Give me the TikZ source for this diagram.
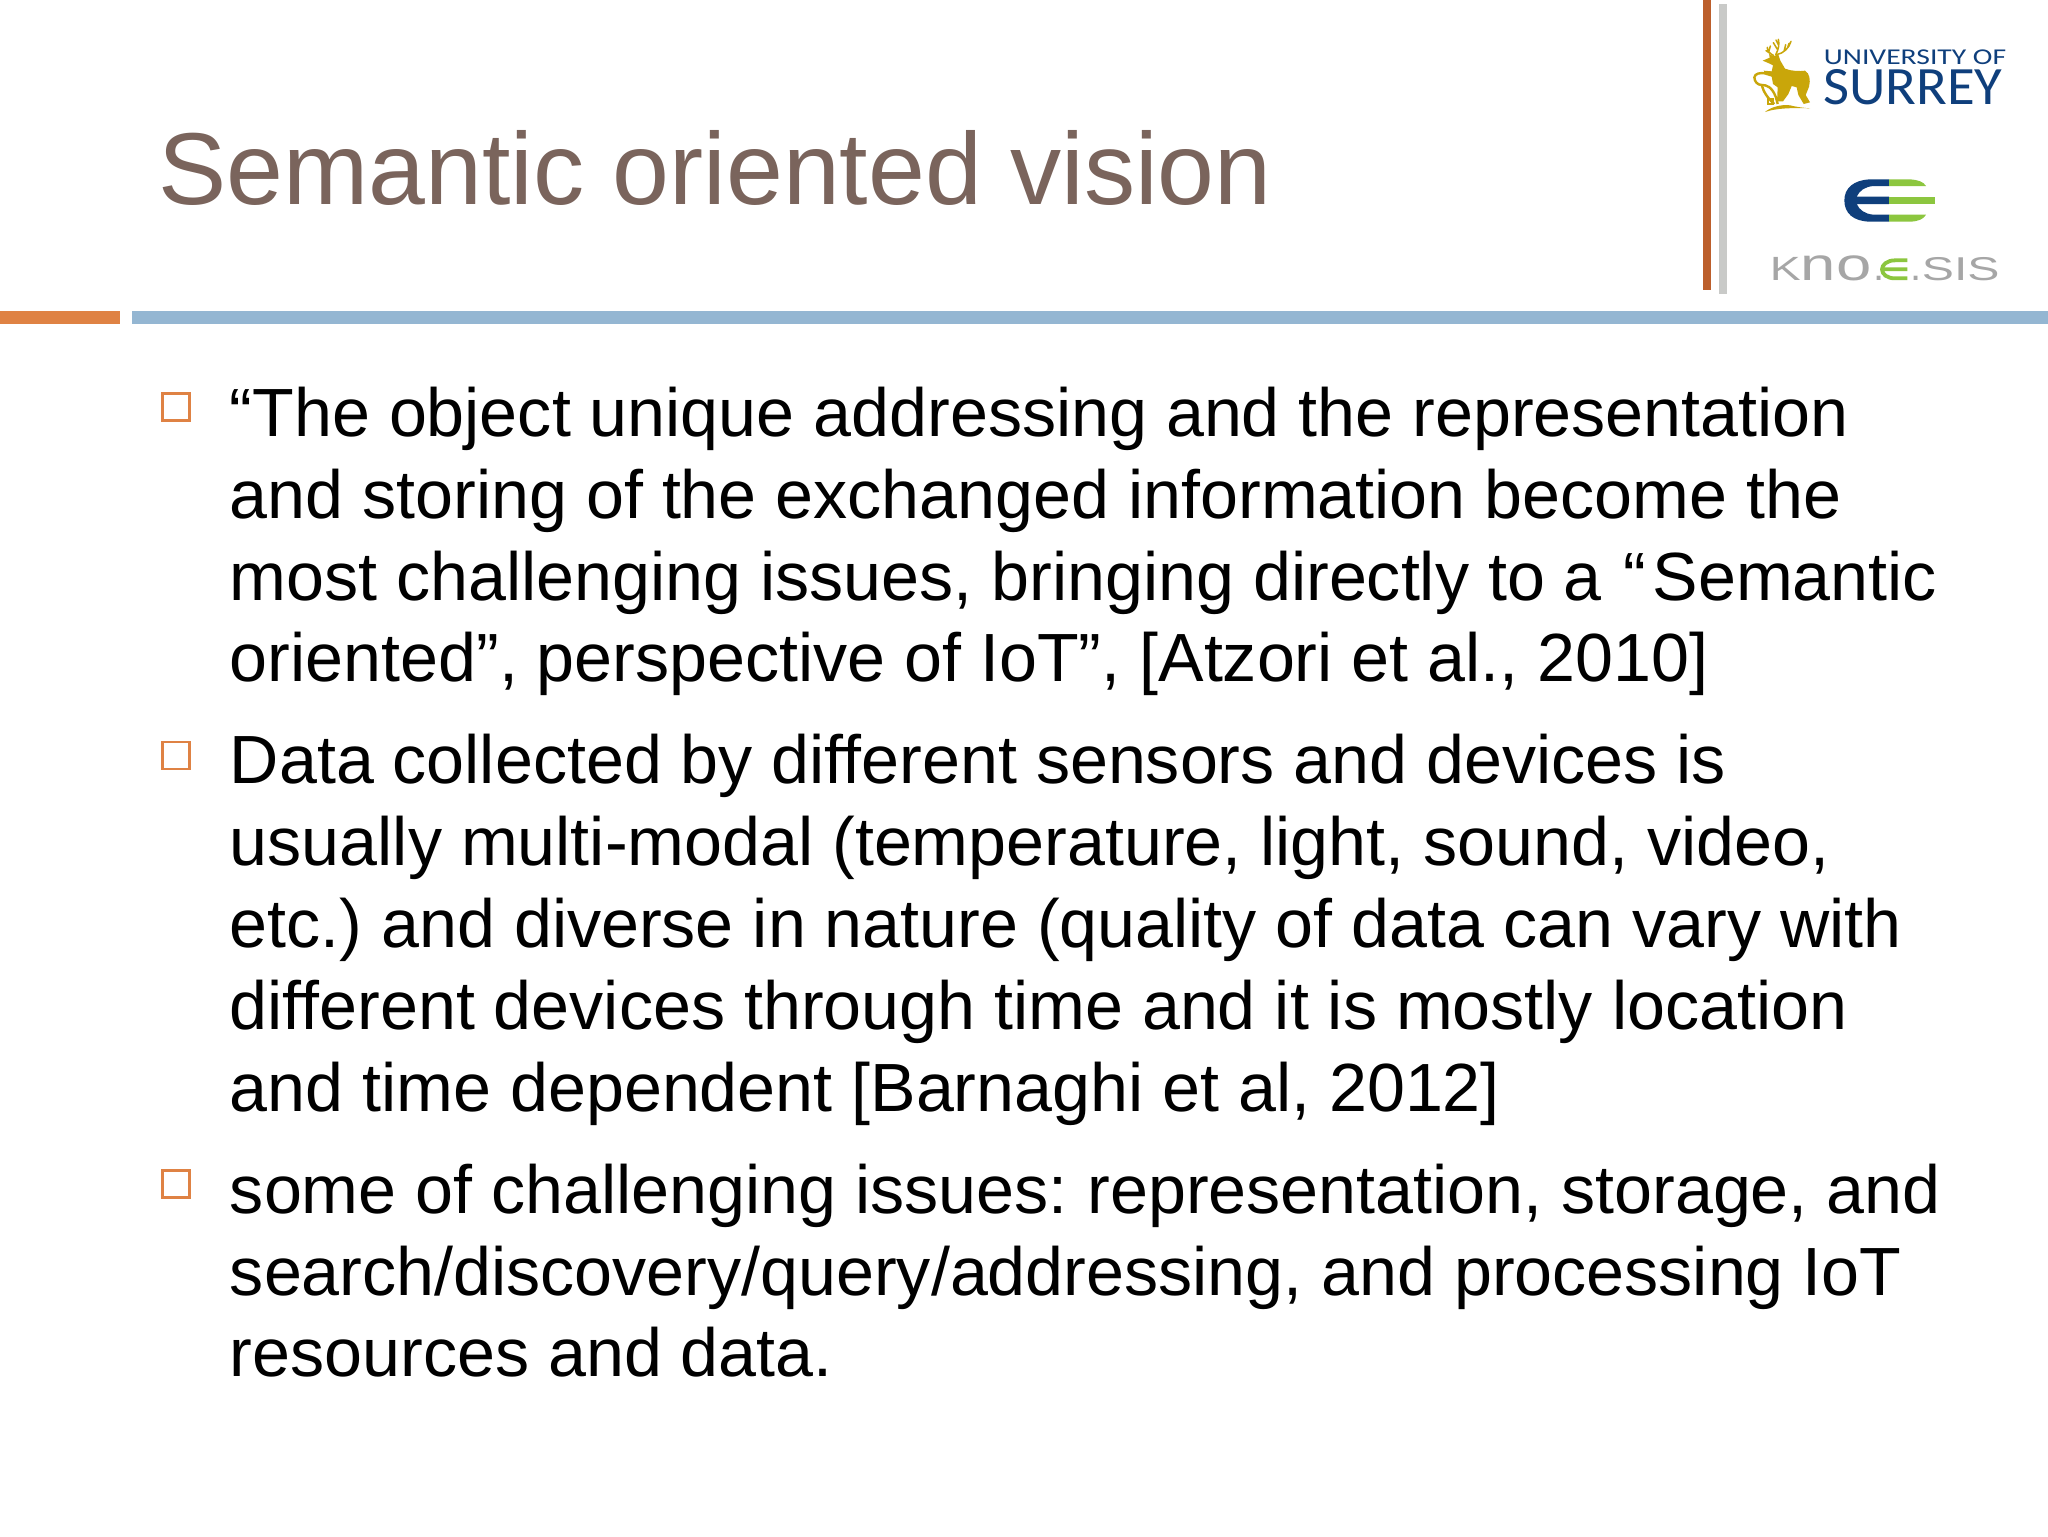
\documentclass[tikz,border=0pt]{standalone}
\usepackage{fontspec}
\setmainfont{Liberation Sans}
\newfontfamily\logofont{Carlito}
\definecolor{titlecol}{HTML}{7A645C}
\definecolor{orangebar}{HTML}{DF8244}
\definecolor{bluebar}{HTML}{94B6D2}
\definecolor{rustbar}{HTML}{BC5F2C}
\definecolor{graybar}{HTML}{C9CAC8}
\definecolor{deergold}{HTML}{C9A60A}
\definecolor{surreyblue}{HTML}{0F3F7C}
\definecolor{knogreen}{HTML}{8CC63F}
\definecolor{knogray}{HTML}{A6A6A6}
\tikzset{
  bodyline/.style={anchor=base west,inner sep=0pt,text=black,font=\fontsize{34.1pt}{41pt}\selectfont},
  bulletbox/.style={draw=orangebar,line width=1.3pt,fill=none,minimum size=13.5pt,inner sep=0pt,shape=rectangle},
  logotext/.style={anchor=base west,inner sep=0pt},
  knotext/.style={logotext,text=knogray},
}
\begin{document}
\begin{tikzpicture}[x=0.5pt,y=-0.5pt]
\useasboundingbox (0,0) rectangle (2048,1536);
\fill[white] (0,0) rectangle (2048,1536);
% rules
\fill[orangebar] (0,310.7) rectangle (119.5,324);
\fill[bluebar] (132,310.7) rectangle (2048,324);
\fill[rustbar] (1702.5,0) rectangle (1711,290);
\fill[graybar] (1718.5,4.5) rectangle (1727,294);
% title
\node[anchor=base west,inner sep=0pt,text=titlecol,font=\fontsize{51.1pt}{58pt}\selectfont] (title) at (158,204) {Semantic oriented vision};
% bullets
\node[bulletbox] (b1) at (176,407) {};
\node[bulletbox] (b2) at (176,755.5) {};
\node[bulletbox] (b3) at (176,1184) {};
% body
\node[bodyline] (l1) at (229.5,436.5) {“The object unique addressing and the representation};
\node[bodyline] (l2) at (229.5,518.5) {and storing of the exchanged information become the};
\node[bodyline] (l3) at (229.5,600.5) {most challenging issues, bringing directly to a\kern1.2pt{} “\kern3.4pt Semantic};
\node[bodyline] (l4) at (229.5,681.5) {oriented”, perspective of IoT”, [Atzori et al., 2010]};
\node[bodyline] (l5) at (229.5,783.5) {Data collected by different sensors and devices is};
\node[bodyline] (l6) at (229.5,865.5) {usually multi-modal (temperature, light, sound, video,};
\node[bodyline] (l7) at (229.5,947.5) {etc.)\kern-3.2pt{} and diverse in nature (quality of data can vary with};
\node[bodyline] (l8) at (229.5,1029.5) {different devices through time and it is mostly location};
\node[bodyline] (l9) at (229.5,1111.5) {and time dependent [Barnaghi et al, 2012]};
\node[bodyline] (l10) at (229.5,1213.5) {some of challenging issues:\kern-2.6pt{} representation, storage, and};
\node[bodyline] (l11) at (229.5,1295.5) {search/discovery/query/addressing, and processing IoT};
\node[bodyline] (l12) at (229.5,1376.5) {resources and data.};
% logos, in zoom coordinates
\begin{scope}[shift={(1680,0)},x=0.16667pt,y=-0.16667pt]
  \begin{scope}[shift={(195,90)}]
    % deer body
    \fill[deergold] (53,92) -- (74,83) -- (72,72) -- (85,78) -- (100,74) -- (106,92) -- (120,116) .. controls (140,124) and (165,124) .. (180,122) .. controls (194,130) and (197,150) .. (192,170) -- (182,195) -- (195,217) -- (176,222) -- (160,195) -- (155,172) -- (140,168) -- (130,192) -- (114,214) -- (96,214) -- (98,172) -- (84,162) -- (80,140) -- (60,134) -- (56,122) -- (80,124) -- (84,106) -- (72,100) -- cycle;
    % shield and strap
    \draw[deergold,line width=1.2pt,line join=round] (60,130) .. controls (45,128) and (30,130) .. (28,142) .. controls (28,155) and (38,165) .. (50,165) .. controls (55,185) and (68,205) .. (88,222);
    \draw[deergold,line width=1.2pt,line join=round] (50,165) .. controls (65,165) and (80,170) .. (92,200) -- (98,222);
    \draw[deergold,line width=1.1pt] (70,208) rectangle (84,222);
    % ground
    \fill[deergold] (60,246) .. controls (75,232) and (110,222) .. (135,226) .. controls (160,232) and (180,234) .. (195,235) .. controls (160,234) and (100,232) .. cycle;
    % antlers
    \draw[deergold,line width=0.75pt,line cap=round]
      (85,76) .. controls (72,70) and (66,60) .. (67,52)
      (75,70) -- (63,62) (72,62) -- (76,48)
      (92,74) .. controls (100,60) and (104,42) .. (100,28)
      (97,58) -- (85,38) (101,46) -- (93,30)
      (95,74) .. controls (115,70) and (132,55) .. (138,34)
      (117,64) -- (122,44) (128,52) -- (132,40);
  \end{scope}
  % Surrey wordmark
  \node[logotext,text=surreyblue,font=\logofont\fontsize{11.3pt}{14pt}\selectfont,xscale=1.31] (uni) at (430,192) {UNIVERSITY OF};
  \node[logotext,text=surreyblue,font=\logofont\fontsize{27pt}{28pt}\selectfont,xscale=1.05] (surrey) at (428,312) {SURREY};
  % E mark
  \fill[surreyblue] (627,538) -- (570,538) .. controls (520,540) and (493,565) .. (493,601) .. controls (493,640) and (520,664) .. (570,665) -- (627,665) -- (627,644) -- (580,644) .. controls (555,642) and (538,630) .. (530,612) -- (627,612) -- (627,590) -- (530,590) .. controls (538,572) and (555,560) .. (580,558) -- (627,558) -- cycle;
  \fill[knogreen] (627,538) -- (690,538) .. controls (715,540) and (730,545) .. (738,558) -- (627,558) -- cycle;
  \fill[knogreen] (627,590) -- (765,590) -- (765,612) -- (627,612) -- cycle;
  \fill[knogreen] (627,644) -- (738,644) .. controls (730,658) and (715,664) .. (690,665) -- (627,665) -- cycle;
  % kno.e.sis wordmark
  \node[knotext,xscale=1.38] (kno) at (268,841) {\fontsize{16.8pt}{18pt}\selectfont K\fontsize{23pt}{24pt}\selectfont no};
  \node[knotext,font=\fontsize{20pt}{20pt}\selectfont] (d1) at (578,841) {.};
  \draw[knogreen,line width=1.9pt] (682,781) -- (645,781) .. controls (620,781) and (606,795) .. (606,808) .. controls (606,822) and (620,835) .. (645,835) -- (682,835) (606,808) -- (682,808);
  \node[knotext,font=\fontsize{20pt}{20pt}\selectfont] (d2) at (690,841) {.};
  \node[knotext,font=\fontsize{16.5pt}{18pt}\selectfont,xscale=1.46] (sis) at (724,842) {SIS};
\end{scope}
\end{tikzpicture}
\end{document}
